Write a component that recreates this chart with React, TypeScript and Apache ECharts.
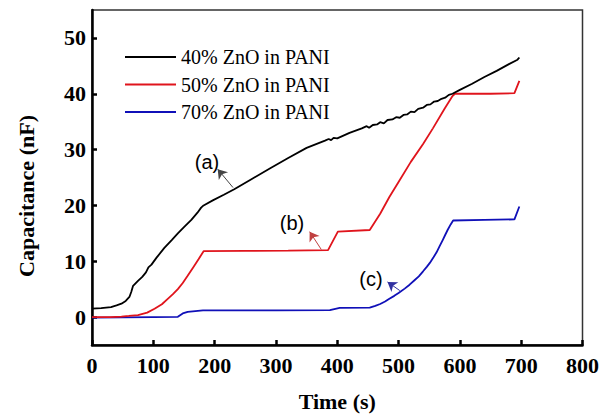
import React, { useEffect, useRef } from "react";
import * as echarts from "echarts";

const seriesNames = ["40% ZnO in PANI", "50% ZnO in PANI", "70% ZnO in PANI"];
const seriesColors = ["#000000", "#e0141c", "#1010b8"];

const curveA: number[][] = [
  [0, 1.5], [15, 1.6], [31, 1.8], [40, 2.1], [48, 2.4], [55, 2.9], [61, 3.6], [64, 4.5], [67, 5.6],
  [75, 6.5], [82, 7.2], [88, 8.0], [92, 8.9], [97, 9.4], [105, 10.6], [118, 12.4], [130, 13.8],
  [140, 15.0], [150, 16.1], [162, 17.4], [172, 18.7], [178, 19.6], [182, 20.0], [197, 20.9],
  [215, 21.9], [232, 22.9], [260, 24.7], [290, 26.6], [320, 28.5], [350, 30.3], [380, 31.6],
  [386, 31.9], [390, 31.7], [394, 32.1], [400, 32.0], [420, 33.0], [440, 33.8], [448, 34.2],
  [452, 33.9], [458, 34.4], [465, 34.5], [470, 34.9], [476, 34.7], [482, 35.3], [490, 35.4],
  [496, 35.8], [502, 35.7], [508, 36.2], [514, 36.3], [520, 36.8], [526, 36.7], [532, 37.3],
  [540, 37.5], [546, 38.0], [552, 38.1], [558, 38.6], [564, 38.7], [570, 39.1], [576, 39.3],
  [582, 39.8], [588, 40.0], [600, 40.7], [620, 41.8], [640, 43.0], [660, 44.1], [680, 45.3],
  [694, 46.1], [697, 46.5],
];

const curveB: number[][] = [
  [0, 0], [30, 0], [48, 0.1], [60, 0.2], [75, 0.35], [90, 0.8], [102, 1.5], [114, 2.3], [124, 3.3],
  [132, 4.1], [140, 5.0], [148, 6.1], [156, 7.4], [165, 8.9], [174, 10.4], [182, 11.8], [250, 11.85],
  [320, 11.9], [385, 12.0], [401, 15.3], [453, 15.6], [470, 18.5], [485, 21.5], [500, 24.2],
  [520, 27.8], [540, 31.0], [556, 33.8], [575, 37.3], [588, 39.6], [592, 40.0], [650, 40.0],
  [689, 40.1], [697, 42.3],
];

const curveC: number[][] = [
  [0, -0.1], [50, -0.05], [100, 0], [140, 0.05], [148, 0.65], [156, 0.95], [181, 1.2], [300, 1.2],
  [388, 1.23], [404, 1.65], [453, 1.7], [462, 2.0], [470, 2.35], [478, 2.8], [485, 3.3], [493, 3.8],
  [500, 4.3], [510, 5.1], [518, 5.8], [526, 6.6], [533, 7.3], [540, 8.2], [546, 9.0], [551, 9.7],
  [557, 10.7], [562, 11.6], [567, 12.7], [572, 13.8], [576, 14.7], [580, 15.6], [585, 16.6],
  [589, 17.3], [640, 17.4], [689, 17.5], [697, 19.8],
];

const yTicks = [0, 10, 20, 30, 40, 50];

// annotation arrows: [from, to] in data units
const arrowA = [[230, 23.2], [205, 26.5]];
const arrowB = [[374, 12.1], [355, 15.3]];
const arrowC = [[502, 4.75], [482, 6.3]];

const serif = "'Liberation Serif', 'Times New Roman', serif";
const sans = "'Liberation Sans', Arial, sans-serif";

export default function App() {
  const ref = useRef<HTMLDivElement>(null);
  useEffect(() => {
    if (!ref.current) return;
    const chart = echarts.init(ref.current, null, { renderer: "svg" });
    const curves = [curveA, curveB, curveC];
    const arrows = [arrowA, arrowB, arrowC];
    const arrowColors = ["#444444", "#c04040", "#3030a0"];
    chart.setOption({
      animation: false,
      backgroundColor: "#ffffff",
      grid: {
        left: 92,
        right: 19,
        top: 10,
        bottom: 67,
        show: true,
        borderColor: "#333333",
        borderWidth: 1.5,
        backgroundColor: "transparent",
      },
      legend: {
        orient: "vertical",
        left: 120,
        top: 42,
        padding: 5,
        icon: "rect",
        itemWidth: 51,
        itemHeight: 2,
        itemGap: 7.5,
        data: seriesNames,
        textStyle: { fontFamily: serif, fontSize: 20, color: "#000", lineHeight: 20 },
      },
      xAxis: {
        type: "value",
        min: 0,
        max: 800,
        interval: 100,
        name: "Time (s)",
        nameLocation: "middle",
        nameGap: 45,
        nameTextStyle: { fontFamily: serif, fontSize: 22, fontWeight: "bold", color: "#000" },
        axisLine: { show: true, onZero: false, lineStyle: { color: "#000", width: 2.5 } },
        axisTick: { show: true, inside: true, length: 5, lineStyle: { color: "#000", width: 2.5 } },
        axisLabel: { fontFamily: serif, fontSize: 22, fontWeight: "bold", color: "#000", margin: 9 },
        splitLine: { show: false },
      },
      yAxis: {
        type: "value",
        min: -5,
        max: 55,
        interval: 5,
        axisLine: { show: true, onZero: false, lineStyle: { color: "#000", width: 2.5 } },
        axisTick: {
          show: true,
          inside: true,
          length: 5,
          customValues: yTicks,
          lineStyle: { color: "#000", width: 2.5 },
        },
        axisLabel: {
          fontFamily: serif,
          fontSize: 22,
          fontWeight: "bold",
          color: "#000",
          margin: 6,
          customValues: yTicks,
        },
        splitLine: { show: false },
      },
      graphic: [
        {
          type: "text",
          x: 26,
          y: 196,
          rotation: Math.PI / 2,
          style: {
            text: "Capacitance (nF)",
            font: `bold 22px ${serif}`,
            fill: "#000",
            textAlign: "center",
            textVerticalAlign: "middle",
          },
        },
        {
          type: "text",
          x: 207,
          y: 162,
          style: { text: "(a)", font: `20px ${sans}`, fill: "#000", textAlign: "center", textVerticalAlign: "middle" },
        },
        {
          type: "text",
          x: 292,
          y: 223,
          style: { text: "(b)", font: `20px ${sans}`, fill: "#000", textAlign: "center", textVerticalAlign: "middle" },
        },
        {
          type: "text",
          x: 371,
          y: 279,
          style: { text: "(c)", font: `20px ${sans}`, fill: "#000", textAlign: "center", textVerticalAlign: "middle" },
        },
      ],
      series: curves.map((c, i) => ({
        name: seriesNames[i],
        type: "line",
        data: c,
        symbol: "none",
        lineStyle: { color: seriesColors[i], width: 1.8 },
        itemStyle: { color: seriesColors[i] },
        z: 3 - i,
        markLine: {
          silent: true,
          symbol: ["none", "arrow"],
          symbolSize: 9,
          label: { show: false },
          emphasis: { disabled: true },
          lineStyle: { color: arrowColors[i], width: 1, type: "solid" },
          data: [[{ coord: arrows[i][0] }, { coord: arrows[i][1] }]],
        },
      })),
    });
    return () => chart.dispose();
  }, []);
  return (
    <div
      ref={ref}
      style={{ position: "fixed", left: 0, top: 0, width: 602, height: 417 }}
    />
  );
}
